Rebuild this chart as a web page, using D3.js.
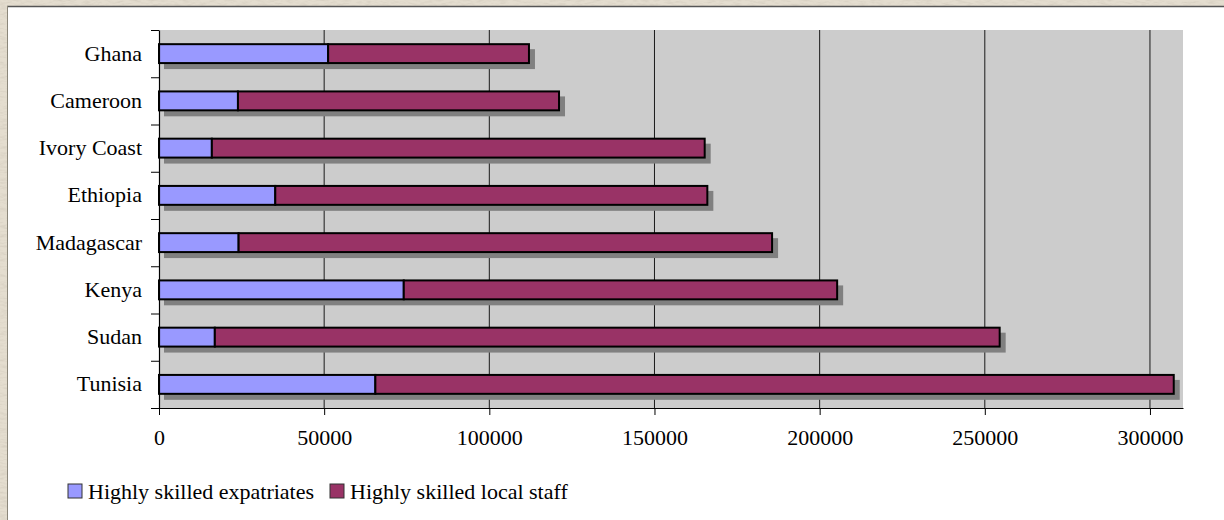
<!DOCTYPE html>
<html>
<head>
<meta charset="utf-8">
<script src="https://cdn.jsdelivr.net/npm/d3@7"></script>
<style>
  html, body { margin: 0; padding: 0; background: #fff; }
  svg { display: block; }
  text { font-family: "Liberation Serif", "Times New Roman", serif; fill: #000; }
</style>
</head>
<body>
<svg id="chart" width="1224" height="520"></svg>
<script>
// Countries, top to bottom
const categories = ["Ghana", "Cameroon", "Ivory Coast", "Ethiopia", "Madagascar", "Kenya", "Sudan", "Tunisia"];
// Highly skilled expatriates
const expatriates = [51200, 23900, 16000, 35200, 24100, 74100, 16900, 65500];
// Highly skilled local staff
const localStaff = [60800, 97200, 149200, 130800, 161500, 131200, 237600, 241700];
const seriesNames = ["Highly skilled expatriates", "Highly skilled local staff"];
const seriesColors = ["#9999ff", "#993366"];
const xTicks = [0, 50000, 100000, 150000, 200000, 250000, 300000];
const xMax = 310000;

const svg = d3.select("#chart");
const W = 1224, H = 520;

// Paper-like frame behind the white page
const defs = svg.append("defs");
const f = defs.append("filter").attr("id", "grain").attr("x", 0).attr("y", 0).attr("width", 1).attr("height", 1);
f.append("feTurbulence").attr("type", "fractalNoise").attr("baseFrequency", "0.12 0.5").attr("numOctaves", 3).attr("seed", 7);
f.append("feColorMatrix").attr("type", "matrix")
  .attr("values", "0 0 0 0 0.55  0 0 0 0 0.50  0 0 0 0 0.42  0.9 0 0 0 -0.38");
svg.append("rect").attr("width", W).attr("height", H).attr("fill", "#e4ddcf");
svg.append("rect").attr("width", W).attr("height", H).attr("filter", "url(#grain)");

// White page with a soft inset edge
svg.append("rect").attr("x", 8).attr("y", 7).attr("width", W - 8).attr("height", H - 7).attr("fill", "#ffffff");
svg.append("line").attr("x1", 7).attr("x2", W).attr("y1", 6.5).attr("y2", 6.5).attr("stroke", "#555").attr("stroke-width", 1.5);
svg.append("line").attr("x1", 7.5).attr("x2", 7.5).attr("y1", 6).attr("y2", H).attr("stroke", "#8a8578").attr("stroke-width", 1);

// Plot geometry
const plot = { left: 159, right: 1183, top: 30, bottom: 408 };

const x = d3.scaleLinear().domain([0, xMax]).range([plot.left, plot.right]);
const y = d3.scaleBand().domain(categories).range([plot.top, plot.bottom])
  .paddingInner(0.6).paddingOuter(0.3);

// Plot background
svg.append("rect")
  .attr("x", plot.left).attr("y", plot.top)
  .attr("width", plot.right - plot.left).attr("height", plot.bottom - plot.top)
  .attr("fill", "#cccccc");

// Vertical gridlines
svg.append("g").selectAll("line")
  .data(xTicks.filter(d => d > 0))
  .join("line")
  .attr("x1", d => x(d)).attr("x2", d => x(d))
  .attr("y1", plot.top).attr("y2", plot.bottom)
  .attr("stroke", "#1a1a1a").attr("stroke-width", 1);

// Stacked data
const rows = categories.map((c, i) => ({ country: c, expat: expatriates[i], local: localStaff[i] }));
const stacked = d3.stack().keys(["expat", "local"])(rows);

// Drop shadow of each whole bar
const shadowOffset = 5;
svg.append("g").selectAll("rect")
  .data(rows)
  .join("rect")
  .attr("x", d => x(0) + shadowOffset)
  .attr("y", d => y(d.country) + shadowOffset)
  .attr("width", d => x(d.expat + d.local) - x(0) + 1)
  .attr("height", y.bandwidth() + 1)
  .attr("fill", "#808080");

// Bar segments
svg.append("g").selectAll("g")
  .data(stacked)
  .join("g")
  .attr("fill", (d, i) => seriesColors[i])
  .selectAll("rect")
  .data(d => d.map(v => ({ v, country: v.data.country })))
  .join("rect")
  .attr("x", d => x(d.v[0]))
  .attr("y", d => y(d.country))
  .attr("width", d => x(d.v[1]) - x(d.v[0]))
  .attr("height", y.bandwidth())
  .attr("stroke", "#000")
  .attr("stroke-width", 2);

// Bottom axis
const xAxis = svg.append("g")
  .attr("transform", `translate(0,${plot.bottom})`)
  .call(d3.axisBottom(x).tickValues(xTicks).tickFormat(d3.format("d")).tickSize(7).tickSizeOuter(0).tickPadding(14));
xAxis.select(".domain").attr("stroke", "#000").attr("stroke-width", 1);
xAxis.selectAll(".tick line").attr("stroke", "#000");
xAxis.selectAll("text").attr("font-size", 22).attr("font-family", "Liberation Serif, Times New Roman, serif").attr("fill", "#000");

// Left axis: tick marks at category boundaries
const yBound = d3.scaleLinear().domain([0, categories.length]).range([plot.top, plot.bottom]);
const yTickAxis = svg.append("g")
  .attr("transform", `translate(${plot.left},0)`)
  .call(d3.axisLeft(yBound).tickValues(d3.range(0, categories.length + 1)).tickFormat("").tickSize(8).tickSizeOuter(0));
yTickAxis.select(".domain").attr("stroke", "#000").attr("stroke-width", 1.2);
yTickAxis.selectAll(".tick line").attr("stroke", "#000");

// Category labels
const yLabelAxis = svg.append("g")
  .attr("transform", `translate(${plot.left},0)`)
  .call(d3.axisLeft(y).tickSize(0).tickPadding(17));
yLabelAxis.select(".domain").remove();
yLabelAxis.selectAll("text").attr("font-size", 22).attr("font-family", "Liberation Serif, Times New Roman, serif").attr("fill", "#000");

// Legend
const legendItems = [
  { name: seriesNames[0], color: seriesColors[0], x: 68 },
  { name: seriesNames[1], color: seriesColors[1], x: 330 }
];
const lg = svg.append("g").selectAll("g").data(legendItems).join("g")
  .attr("transform", d => `translate(${d.x},484)`);
lg.append("rect").attr("width", 14).attr("height", 14)
  .attr("fill", d => d.color).attr("stroke", "#333").attr("stroke-width", 1);
lg.append("text").attr("x", 20).attr("y", 15)
  .attr("font-size", 22).text(d => d.name);
</script>
</body>
</html>
